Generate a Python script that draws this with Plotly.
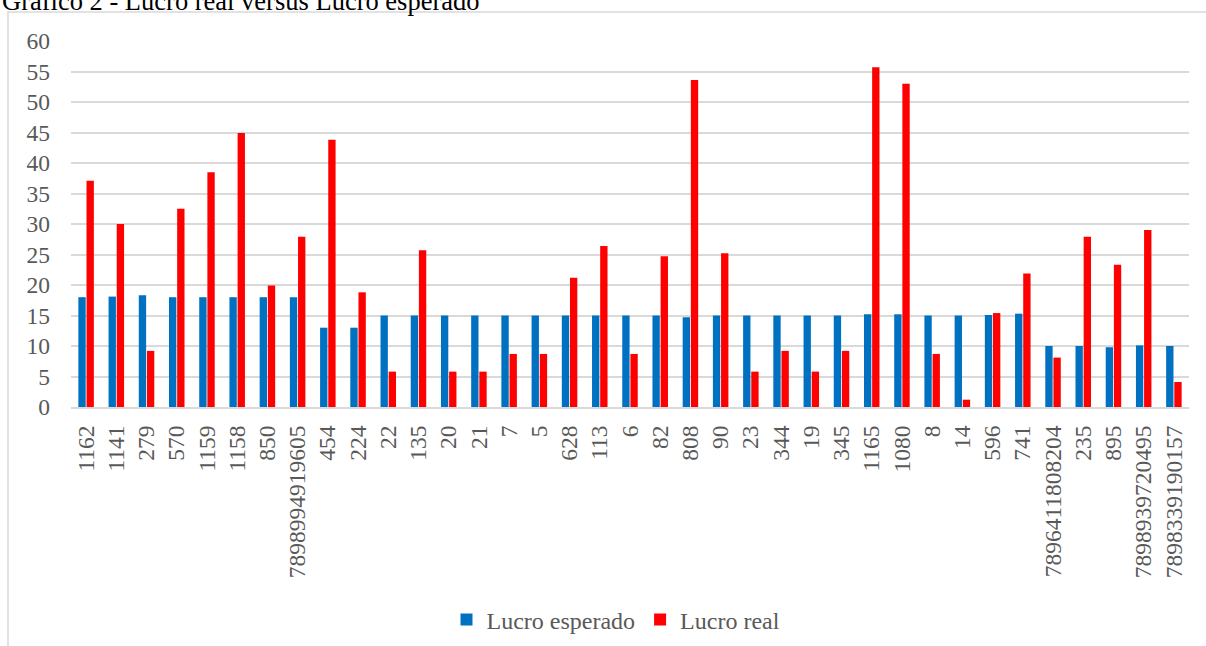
import plotly.graph_objects as go

categories = ["1162", "1141", "279", "570", "1159", "1158", "850", "7898994919605", "454", "224",
              "22", "135", "20", "21", "7", "5", "628", "113", "6", "82", "808", "90", "23", "344",
              "19", "345", "1165", "1080", "8", "14", "596", "741", "7896411808204", "235", "895",
              "7898939720495", "7898339190157"]

lucro_esperado = [18.0, 18.1, 18.3, 18.0, 18.0, 18.0, 18.0, 18.0, 13.0, 13.0,
                  15.0, 15.0, 15.0, 15.0, 15.0, 15.0, 15.0, 15.0, 15.0, 15.0, 14.7, 15.0, 15.0, 15.0,
                  15.0, 15.0, 15.2, 15.2, 15.0, 15.0, 15.1, 15.3, 10.0, 10.0, 9.8,
                  10.1, 10.0]

lucro_real = [37.1, 30.0, 9.2, 32.5, 38.5, 44.9, 19.9, 27.9, 43.8, 18.8,
              5.8, 25.7, 5.8, 5.8, 8.7, 8.7, 21.2, 26.4, 8.7, 24.7, 53.6, 25.2, 5.8, 9.2,
              5.8, 9.2, 55.7, 53.0, 8.7, 1.2, 15.4, 21.9, 8.1, 27.9, 23.3,
              29.0, 4.1]

W, H = 1206, 646
L, R, T, B = 71, 17, 41, 239
pw = W - L - R
ph = H - T - B

BLUE = "#0070C0"
RED = "#FF0000"
GRID = "#D9D9D9"
TXT = "#595959"
FONT = "Times New Roman, Liberation Serif, serif"

fig = go.Figure()
fig.add_trace(go.Bar(x=categories, y=lucro_esperado, name="Lucro esperado",
                     marker=dict(color=BLUE, line=dict(width=0))))
fig.add_trace(go.Bar(x=categories, y=lucro_real, name="Lucro real",
                     marker=dict(color=RED, line=dict(width=0))))

def px_x(x):
    return (x - L) / pw

def px_y(y):
    return (H - B - y) / ph

fig.add_shape(type="rect", xref="paper", yref="paper",
              x0=px_x(8), x1=px_x(1215), y0=px_y(660), y1=px_y(12),
              line=dict(color=GRID, width=1.5), fillcolor="rgba(0,0,0,0)", layer="below")

fig.add_annotation(text="Gráfico 2 - Lucro real versus Lucro esperado",
                   xref="paper", yref="paper", x=px_x(0), y=px_y(18),
                   xanchor="left", yanchor="bottom", showarrow=False,
                   font=dict(family=FONT, size=26.5, color="#000000"))

fig.update_layout(
    width=W, height=H,
    margin=dict(l=L, r=R, t=T, b=B, autoexpand=False),
    paper_bgcolor="white", plot_bgcolor="white",
    barmode="group", bargap=0.46, bargroupgap=0.1,
    font=dict(family=FONT, color=TXT),
    showlegend=True,
    legend=dict(orientation="h", xref="container", yref="container",
                x=446.5 / W, y=1 - 620 / H, xanchor="left", yanchor="middle",
                font=dict(family=FONT, size=24, color=TXT),
                itemwidth=30, bgcolor="rgba(0,0,0,0)"),
)

fig.update_xaxes(type="category", tickangle=-90, showgrid=False,
                 showline=True, linecolor=GRID, linewidth=2,
                 ticks="", ticklabelstandoff=7,
                 tickfont=dict(family=FONT, size=23.5, color=TXT))
fig.update_yaxes(range=[0, 60], dtick=5, tick0=0, showgrid=True, gridcolor=GRID, gridwidth=1.5,
                 zeroline=False, showline=False, ticks="", ticklabelstandoff=20,
                 tickfont=dict(family=FONT, size=23.5, color=TXT))

fig.write_html("out.html")
